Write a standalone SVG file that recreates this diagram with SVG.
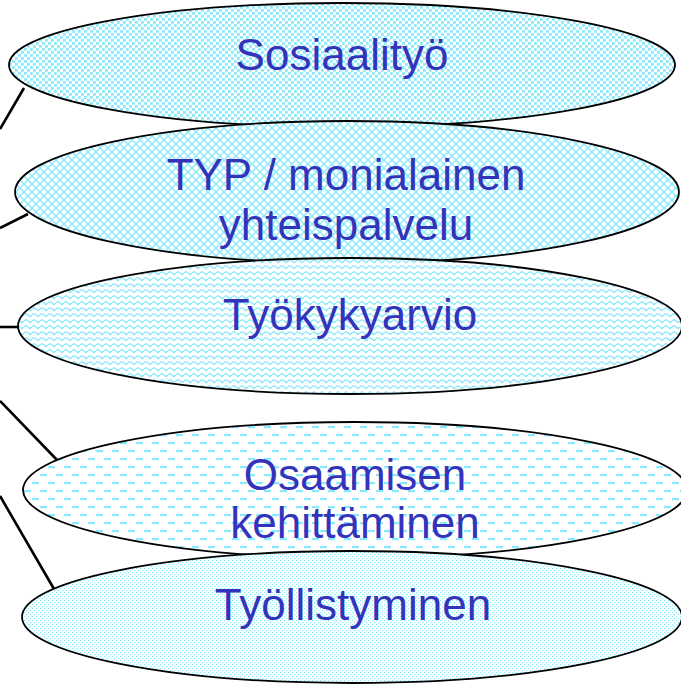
<svg xmlns="http://www.w3.org/2000/svg" width="681" height="686" viewBox="0 0 681 686">
<style>
.node ellipse{stroke:#000;stroke-width:1.8}
.lbl{font-family:"Liberation Sans",Arial,sans-serif;font-size:44px;fill:#3333BB;text-anchor:middle}
.conn line{stroke:#000;stroke-width:2.6}
.pc{fill:#8BE9FC}
.ps{stroke:#8BE9FC;fill:none}
</style>
<defs>
<pattern id="p1" width="6" height="6" patternUnits="userSpaceOnUse">
<rect width="6" height="6" fill="#fff"/>
<rect class="pc" x="0" y="0" width="2.8" height="2.8"/>
<rect class="pc" x="3" y="3" width="2.8" height="2.8"/>
</pattern>
<pattern id="p2" width="8" height="8" patternUnits="userSpaceOnUse">
<rect width="8" height="8" fill="#fff"/>
<path class="ps" stroke-width="1.4" d="M0,0 L8,8 M8,0 L0,8"/>
</pattern>
<pattern id="p3" width="8" height="6" patternUnits="userSpaceOnUse">
<rect width="8" height="6" fill="#fff"/>
<path class="ps" stroke-width="1.4" d="M0,3 L2,1.5 L4,3 L6,4.5 L8,3"/>
</pattern>
<pattern id="p4" width="16" height="16" patternUnits="userSpaceOnUse">
<rect width="16" height="16" fill="#fff"/>
<rect class="pc" x="0" y="2" width="7" height="2.2"/>
<rect class="pc" x="8" y="10" width="7" height="2.2"/>
</pattern>
<pattern id="p5" width="4" height="4" patternUnits="userSpaceOnUse">
<rect width="4" height="4" fill="#fff"/>
<rect class="pc" x="0" y="0" width="1.2" height="1.2"/>
<rect class="pc" x="2" y="2" width="1.2" height="1.2"/>
</pattern>
</defs>
<rect width="681" height="686" fill="#fff"/>
<g id="connectors" class="conn">
<line x1="0" y1="129" x2="24" y2="88"/>
<line x1="0" y1="228" x2="28" y2="214"/>
<line x1="0" y1="327" x2="19" y2="327"/>
<line x1="0" y1="401" x2="58" y2="461"/>
<line x1="0" y1="496" x2="54" y2="589"/>
</g>
<g id="node1" class="node">
<ellipse cx="342" cy="65" rx="333" ry="62" fill="url(#p1)"/>
<text class="lbl" x="342" y="70">Sosiaalityö</text>
</g>
<g id="node2" class="node">
<ellipse cx="347" cy="192" rx="332" ry="71" fill="url(#p2)"/>
<text class="lbl" x="346" y="190">TYP / monialainen</text>
<text class="lbl" x="346" y="240">yhteispalvelu</text>
</g>
<g id="node3" class="node">
<ellipse cx="350" cy="326" rx="332" ry="68" fill="url(#p3)"/>
<text class="lbl" x="350" y="330">Työkykyarvio</text>
</g>
<g id="node4" class="node">
<ellipse cx="355" cy="490" rx="332" ry="68" fill="url(#p4)"/>
<text class="lbl" x="355" y="490">Osaamisen</text>
<text class="lbl" x="355" y="538">kehittäminen</text>
</g>
<g id="node5" class="node">
<ellipse cx="352" cy="617" rx="330" ry="66" fill="url(#p5)"/>
<text class="lbl" x="353" y="620">Työllistyminen</text>
</g>
</svg>
